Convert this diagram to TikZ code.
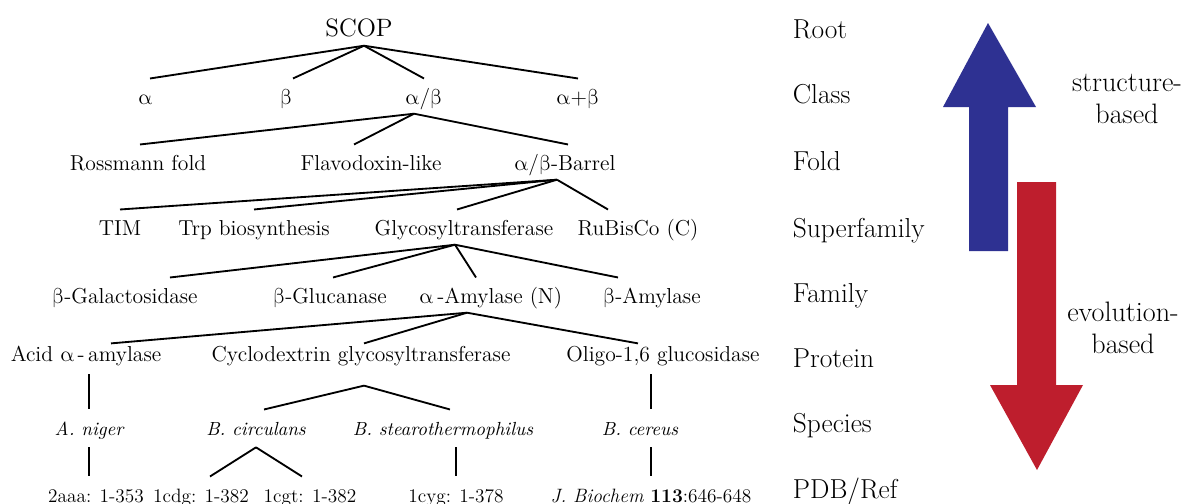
\documentclass[tikz,border=0pt]{standalone}
\usepackage{fontspec}
\newfontfamily\grk{latinmodern-math.otf}
\newcommand{\alp}{{\grk α}}
\newcommand{\bet}{{\grk β}}
\definecolor{upblue}{RGB}{46,49,146}
\definecolor{downred}{RGB}{190,30,45}
\tikzset{tnode/.style={anchor=base, inner xsep=1pt, inner ysep=5pt,
        text height=9pt, text depth=0pt, font=\fontsize{12.3}{15}\selectfont},
    prot/.style={tnode, text height=4.5pt, text depth=2pt},
    spec/.style={tnode, text depth=1.5pt, font=\fontsize{10.8}{14}\selectfont\itshape},
    pdb/.style={tnode, font=\fontsize{11}{14}\selectfont},
    rank/.style={anchor=base west, inner sep=0pt, font=\fontsize{15.6}{20}\selectfont},
    basis/.style={align=center, inner sep=0pt, font=\fontsize{16}{18}\selectfont},
    }

\begin{document}
\begin{tikzpicture}[x=0.02cm, y=-0.02cm, line width=1.05pt]
	\useasboundingbox (0,0) rectangle (1201,504);
	% tree
	\node[tnode, font=\fontsize{14.3}{18}\selectfont] (scop) at (359,36) {SCOP};
	\node[tnode] (alpha) at (145,104) {\alp};
	\node[tnode] (beta) at (287,104) {\bet};
	\node[tnode] (ab) at (424,104) {\alp/\bet};
	\node[tnode] (apb) at (578,104) {\alp+\bet};
	\node[tnode] (rossmann) at (138,170) {Rossmann fold};
	\node[tnode] (flavo) at (371,170) {Flavodoxin-like};
	\node[tnode] (barrel) at (565,170) {\alp/\bet-Barrel};
	\node[tnode] (tim) at (120,235) {TIM};
	\node[tnode] (trp) at (254,235) {Trp biosynthesis};
	\node[tnode] (glyco) at (464,235) {Glycosyltransferase};
	\node[tnode] (rubisco) at (638,235) {RuBisCo (C)};
	\node[tnode] (bgal) at (125,303) {\bet-Galactosidase};
	\node[tnode] (bglu) at (330,303) {\bet-Glucanase};
	\node[tnode] (aamy) at (491,303) {\alp\,-Amylase (N)};
	\node[tnode] (bamy) at (652,303) {\bet-Amylase};
	\node[prot] (acid) at (86,361) {Acid \alp\,-\,amylase};
	\node[prot] (cyclo) at (361,361) {Cyclodextrin glycosyltransferase};
	\node[prot] (oligo) at (663,361) {Oligo-1,6 glucosidase};
	\node[spec] (niger) at (89,435) {A. niger};
	\node[spec] (circ) at (256,435) {B. circulans};
	\node[spec] (stearo) at (443,435) {B. stearothermophilus};
	\node[spec] (cereus) at (640,435) {B. cereus};
	\node[pdb] (paaa) at (96,502) {2aaa: 1-353};
	\node[pdb] (pcdg) at (201,502) {1cdg: 1-382};
	\node[pdb] (pcgt) at (310,502) {1cgt: 1-382};
	\node[pdb] (pcyg) at (456,502) {1cyg: 1-378};
	\node[pdb] (pjb) at (651,502) {{\itshape J. Biochem} \textbf{113}:646-648};

	\foreach \c/\s in {alpha/0.1cm, beta/0.12cm, ab/0cm, apb/0cm}
		\draw ([xshift=0.1cm]scop.south) -- ([xshift=\s]\c.north);
	\foreach \c/\s in {rossmann/0.04cm, flavo/-0.34cm, barrel/0.06cm}
		\draw ([xshift=-0.2cm]ab.south) -- ([xshift=\s]\c.north);
	\foreach \c/\s in {tim/0cm, trp/0cm, glyco/-0.14cm, rubisco/-0.6cm}
		\draw ([xshift=-0.16cm]barrel.south) -- ([xshift=\s]\c.north);
	\foreach \c/\s in {bgal/0.9cm, bglu/0.06cm, aamy/-0.3cm, bamy/-0.68cm}
		\draw ([xshift=-0.18cm]glyco.south) -- ([xshift=\s]\c.north);
	\foreach \c/\s in {acid/0.5cm, cyclo/0.06cm, oligo/-0.5cm}
		\draw ([xshift=-0.48cm]aamy.south) -- ([xshift=\s]\c.north);
	\foreach \c/\s in {circ/0.16cm, stearo/0.14cm}
		\draw ([xshift=0.06cm, yshift=-6.5pt]cyclo.south) -- ([xshift=\s]\c.north);
	\foreach \c/\s in {pcdg/0.18cm, pcgt/-0.16cm}
		\draw (circ.south) -- ([xshift=\s]\c.north);
	\draw (acid.south -| niger.north) -- (niger.north);
	\draw (niger.south) -- (niger.south |- paaa.north);
	\draw (pcyg.north |- stearo.south) -- (pcyg.north);
	\draw (oligo.south -| pjb.north) -- (cereus.north -| pjb.north);
	\draw (cereus.south -| pjb.north) -- (pjb.north);

	% ranks
	\node[rank] (rroot) at (792,38) {Root};
	\node[rank] (rclass) at (792,103) {Class};
	\node[rank] (rfold) at (792,170) {Fold};
	\node[rank] (rsuper) at (792,237) {Superfamily};
	\node[rank] (rfamily) at (792,302) {Family};
	\node[rank] (rprotein) at (792,367) {Protein};
	\node[rank] (rspecies) at (792,432) {Species};
	\node[rank] (rpdb) at (792,498) {PDB/Ref};

	% arrows
	\fill[upblue] (969,251) -- (969,107) -- (943,107) -- (988,23) -- (1036,107)
		-- (1008,107) -- (1008,251) -- cycle;
	\fill[downred] (1017,182) -- (1056,182) -- (1056,385) -- (1083,385) -- (1037,470)
		-- (990,385) -- (1017,385) -- cycle;
	\node[basis] (structure) at (1127,99) {structure-\\based};
	\node[basis] (evolution) at (1123,328) {evolution-\\based};
\end{tikzpicture}
\end{document}
